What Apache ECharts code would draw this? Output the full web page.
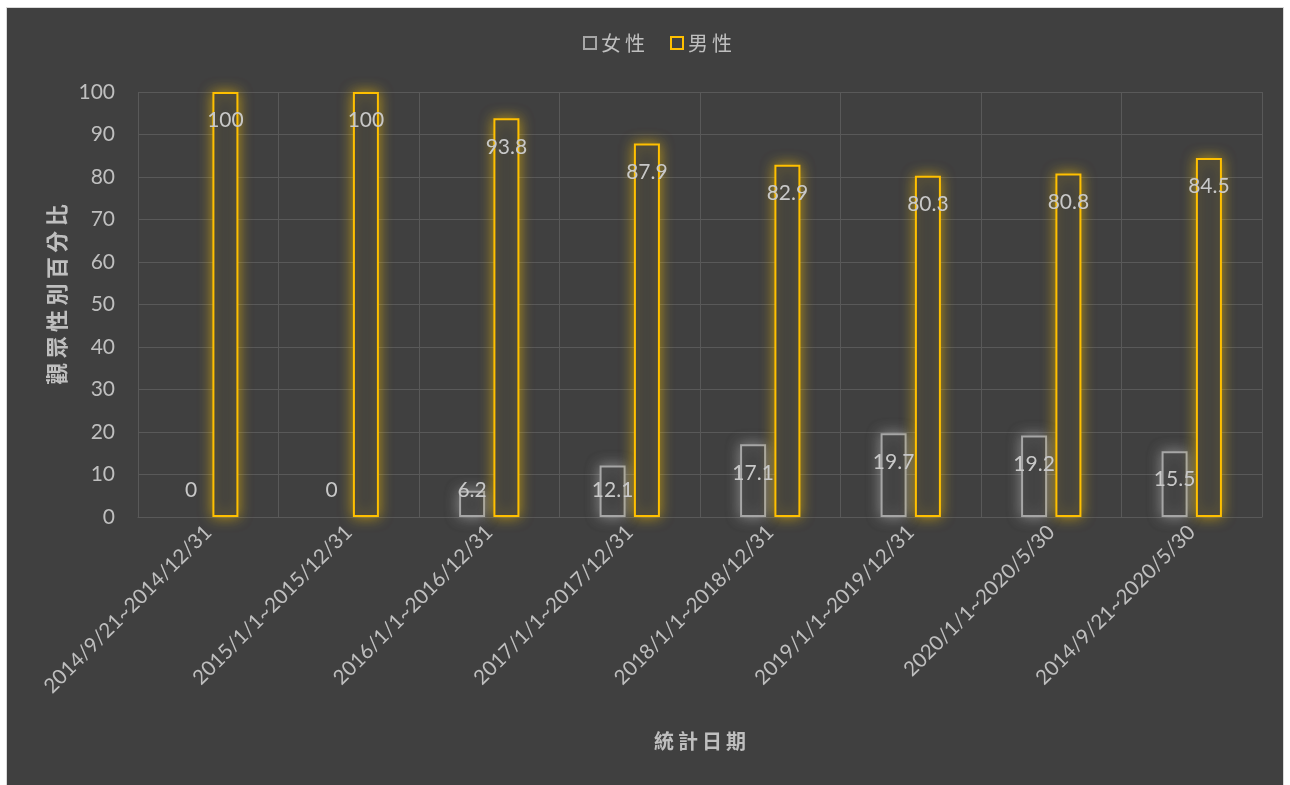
<!DOCTYPE html>
<html>
<head>
<meta charset="utf-8">
<script src="https://cdn.jsdelivr.net/npm/echarts@6/dist/echarts.min.js"></script>
<style>
  html, body { margin: 0; padding: 0; background: #ffffff; }
  #frame {
    position: absolute; left: 6px; top: 7px; width: 1278px; height: 780px;
    border-left: 1px solid #d9d9d9; border-top: 1px solid #d9d9d9; border-right: 1px solid #d9d9d9;
    box-sizing: border-box; background: #404040;
  }
  #chart { width: 100%; height: 100%; }
</style>
</head>
<body>
<div id="frame"><div id="chart"></div></div>
<script>
// Audience gender share per reporting period
const categories = [
  '2014/9/21~2014/12/31',
  '2015/1/1~2015/12/31',
  '2016/1/1~2016/12/31',
  '2017/1/1~2017/12/31',
  '2018/1/1~2018/12/31',
  '2019/1/1~2019/12/31',
  '2020/1/1~2020/5/30',
  '2014/9/21~2020/5/30'
];
const female = [0, 0, 6.2, 12.1, 17.1, 19.7, 19.2, 15.5];
const male = [100, 100, 93.8, 87.9, 82.9, 80.3, 80.8, 84.5];
const yTicks = { min: 0, max: 100, interval: 10 };

const FONT = 'Lato, "Noto Sans", sans-serif';
const CJK = '"Noto Sans CJK TC", "Noto Sans CJK SC", sans-serif';
const TEXT = '#bfbfbf';
const THIN = '\u2009';

// Short bars keep their label above the baseline instead of below the bar top;
// empty bars draw no outline, only the label
function withLabels(values) {
  return values.map(v => {
    const item = {
      value: v,
      label: v < 13
        ? { position: 'insideBottom', distance: 16 }
        : { position: 'insideTop', distance: 18 }
    };
    if (v === 0) {
      item.itemStyle = { borderWidth: 0, borderColor: 'transparent', shadowBlur: 0, color: 'transparent' };
    }
    return item;
  });
}

const labelStyle = {
  show: true,
  color: '#c8c8c8',
  fontSize: 21,
  fontFamily: FONT
};

const spaced = s => s.split('').join(THIN);

const chart = echarts.init(document.getElementById('chart'));
chart.setOption({
  backgroundColor: '#404040',
  animation: false,
  legend: {
    top: 20,
    left: 571,
    itemWidth: 12,
    itemHeight: 12,
    itemGap: 25,
    textStyle: { color: TEXT, fontSize: 20, fontFamily: CJK },
    formatter: name => spaced(name),
    data: [
      { name: '女性', icon: 'rect', itemStyle: { color: '#404040', borderColor: '#a6a6a6', borderWidth: 2, shadowBlur: 0 } },
      { name: '男性', icon: 'rect', itemStyle: { color: '#404040', borderColor: '#ffc000', borderWidth: 2, shadowBlur: 0 } }
    ]
  },
  grid: { left: 131, right: 21, top: 84, bottom: 270, containLabel: false },
  xAxis: {
    type: 'category',
    data: categories,
    name: spaced('統計日期'),
    nameLocation: 'middle',
    nameGap: 214,
    nameTextStyle: { color: TEXT, fontSize: 20, fontWeight: 'bold', fontFamily: CJK },
    axisLine: { show: true, lineStyle: { color: '#595959', width: 1 } },
    axisTick: { show: false },
    splitLine: { show: true, lineStyle: { color: '#595959', width: 1 } },
    axisLabel: {
      rotate: 45,
      margin: 12,
      color: TEXT,
      fontSize: 20.5,
      fontFamily: FONT,
      interval: 0
    }
  },
  yAxis: {
    type: 'value',
    min: yTicks.min,
    max: yTicks.max,
    interval: yTicks.interval,
    name: spaced('觀眾性別百分比'),
    nameLocation: 'middle',
    nameGap: 66,
    nameTextStyle: { color: TEXT, fontSize: 22, fontWeight: 'bold', fontFamily: CJK, padding: [0, 0, 0, 20] },
    axisLine: { show: false },
    axisTick: { show: false },
    splitLine: { show: true, lineStyle: { color: '#595959', width: 1 } },
    axisLabel: { color: TEXT, fontSize: 21, fontFamily: FONT, margin: 23 }
  },
  series: [
    {
      name: '女性',
      type: 'bar',
      barWidth: 26,
      barGap: '32%',
      data: withLabels(female),
      itemStyle: {
        color: '#404040',
        borderColor: '#a6a6a6',
        borderWidth: 2,
        shadowBlur: 14,
        shadowColor: 'rgba(210,210,210,0.5)'
      },
      label: labelStyle
    },
    {
      name: '男性',
      type: 'bar',
      barWidth: 26,
      barGap: '32%',
      data: withLabels(male),
      itemStyle: {
        color: '#404040',
        borderColor: '#ffc000',
        borderWidth: 2,
        shadowBlur: 14,
        shadowColor: 'rgba(255,200,0,0.6)'
      },
      label: labelStyle
    }
  ]
});
</script>
</body>
</html>
